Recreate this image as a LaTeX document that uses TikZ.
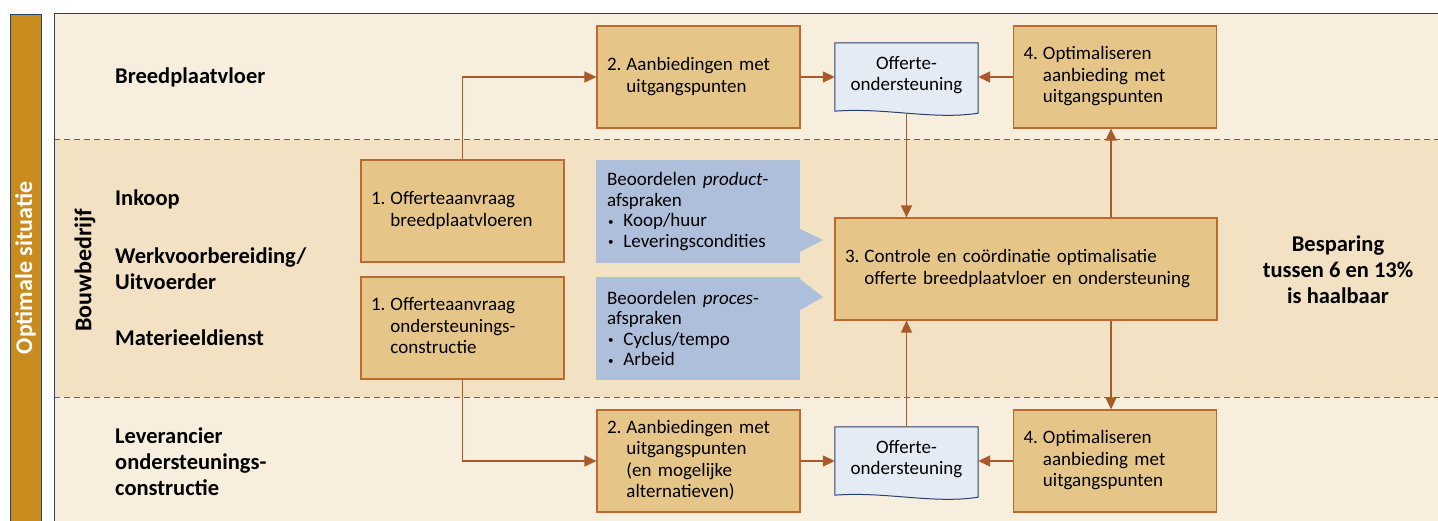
\documentclass[tikz,border=0pt]{standalone}
\usepackage{fontspec}
\setmainfont{Carlito}
\usetikzlibrary{arrows.meta,calc}
\definecolor{creamA}{HTML}{F7EEDD}
\definecolor{creamB}{HTML}{F2E1C3}
\definecolor{boxfill}{HTML}{E6C688}
\definecolor{boxline}{HTML}{BC6A30}
\definecolor{arrowc}{HTML}{A9592A}
\definecolor{barc}{HTML}{C98B1E}
\definecolor{navy}{HTML}{27456B}
\definecolor{calloutc}{HTML}{AEBFDC}
\definecolor{docfill}{HTML}{E5EBF5}
\definecolor{dashc}{HTML}{4E6A87}
\newcommand{\boxfont}{\fontsize{19}{21.5}\selectfont}
\newcommand{\callfont}{\fontsize{19}{20.6}\selectfont}
\newcommand{\labfont}{\fontsize{22.5}{26}\selectfont\bfseries}
\newcommand{\numtab}[2]{\begin{tabular}{@{}l@{\hspace{5pt}}l@{}}#1&#2\end{tabular}}
\newcommand{\bul}{\hspace{1pt}\raisebox{1.5pt}{\fontsize{11}{11}\selectfont\textbullet}\hspace{10pt}}
\begin{document}
\begin{tikzpicture}[x=1pt,y=-1pt,
  proc/.style={draw=boxline, fill=boxfill, line width=1.2pt, minimum width=203pt,
    minimum height=102pt, inner xsep=10pt, inner ysep=0pt, text width=183pt,
    font=\boxfont, align=left},
  callout/.style={fill=calloutc, minimum width=204pt, minimum height=103pt,
    inner xsep=11pt, inner ysep=0pt, text width=182pt, font=\callfont, align=left},
  docnode/.style={minimum width=143pt, minimum height=68pt, inner sep=0pt,
    font=\boxfont, align=center},
  flow/.style={draw=arrowc, line width=1.4pt, -{Triangle[length=12pt,width=11pt]}},
  lab/.style={font=\labfont, anchor=west, align=left, inner sep=0pt},
  dashline/.style={draw=dashc, line width=1pt, dash pattern=on 6pt off 4pt}
]
\useasboundingbox (0,0) rectangle (1438,521);
% bands
\fill[creamA] (54,14) rectangle (1438,140);
\fill[creamB] (54,140) rectangle (1438,397);
\fill[creamA] (54,397) rectangle (1438,521);
\draw[dashline] (54,140) -- (1438,140);
\draw[dashline] (54,397) -- (1438,397);
\draw[navy, line width=1pt] (54,521) -- (54,14) -- (1438,14);
% left bar
\draw[navy, fill=barc, line width=0.8pt] (10,521) -- (10,14) -- (41,14) -- (41,521);
\node[rotate=90, font=\fontsize{24}{26}\selectfont\bfseries, text=white] (opt) at (25.5,268) {Optimale situatie};
\node[rotate=90, font=\fontsize{24}{26}\selectfont\bfseries] (bouw) at (85,270) {Bouwbedrijf};
% row labels
\node[lab] (l1) at (115,77) {Breedplaatvloer};
\node[lab] (l2) at (115,199) {Inkoop};
\node[lab] (l3) at (115,269) {Werkvoorbereiding/\\Uitvoerder};
\node[lab] (l4) at (115,338) {Materieeldienst};
\node[lab] (l5) at (115,462) {Leverancier\\ondersteunings-\\constructie};
\node[font=\labfont, align=center] (besp) at (1338,270) {Besparing\\tussen 6 en 13\%\\is haalbaar};
% process boxes
\node[proc] (b1a) at (462.5,211) {\numtab{1.}{Offerteaanvraag\\&breedplaatvloeren}};
\node[proc] (b1b) at (462.5,328) {\numtab{1.}{Offerteaanvraag\\&ondersteunings-\\&constructie}};
\node[proc] (b2t) at (698.5,77) {\numtab{2.}{Aanbiedingen met\\&uitgangspunten}};
\node[proc] (b2b) at (698.5,461) {\numtab{2.}{Aanbiedingen met\\&uitgangspunten\\&(en mogelijke\\&alternatieven)}};
\node[proc] (b4t) at (1115,77) {\numtab{4.}{Optimaliseren\\&aanbieding met\\&uitgangspunten}};
\node[proc] (b4b) at (1115,461) {\numtab{4.}{Optimaliseren\\&aanbieding met\\&uitgangspunten}};
\node[proc, minimum width=382pt, text width=362pt] (b3) at (1026,269)
  {\numtab{3.}{Controle en co\"ordinatie optimalisatie\\&offerte breedplaatvloer en ondersteuning}};
% callouts
\fill[calloutc] (800,229) -- (823,240) -- (800,252) -- cycle;
\fill[calloutc] (800,279) -- (823,297) -- (800,310) -- cycle;
\node[callout] (c1) at (698,211.5) {Beoordelen \textit{product}-\\afspraken\\\bul Koop/huur\\\bul Leveringscondities};
\node[callout] (c2) at (698,328.5) {Beoordelen \textit{proces}-\\afspraken\\\bul Cyclus/tempo\\\bul Arbeid};
% documents
\node[docnode] (dt) at (906.5,77) {};
\node[docnode] (db) at (906.5,461) {};
\foreach \d in {dt,db}{
  \draw[navy, fill=docfill, line width=1pt]
    (\d.north west) -- (\d.north east) -- ([yshift=-2pt]\d.south east)
    .. controls ([xshift=-45pt,yshift=-9pt]\d.south east) and ([xshift=50pt,yshift=4pt]\d.south west) .. (\d.south west) -- cycle;
}
\node[font=\boxfont, align=center] (dtt) at (906.5,75) {Offerte-\\ondersteuning};
\node[font=\boxfont, align=center] (dbt) at (906.5,459) {Offerte-\\ondersteuning};
% connectors
\draw[flow] (b1a.north) |- (b2t.west);
\draw[flow] (b2t.east) -- (dt.west);
\draw[flow] (b4t.west) -- (dt.east);
\draw[flow] ([yshift=-3pt]dt.south) -- (b3.north -| dt.south);
\draw[flow] ([xshift=-4pt]b3.north -| b4t.south) -- ([xshift=-4pt]b4t.south);
\draw[flow] (b1b.south) |- (b2b.west);
\draw[flow] (b2b.east) -- (db.west);
\draw[flow] (b4b.west) -- (db.east);
\draw[flow] (db.north) -- (b3.south -| db.north);
\draw[flow] ([xshift=-4pt]b3.south -| b4b.north) -- ([xshift=-4pt]b4b.north);
\end{tikzpicture}
\end{document}
